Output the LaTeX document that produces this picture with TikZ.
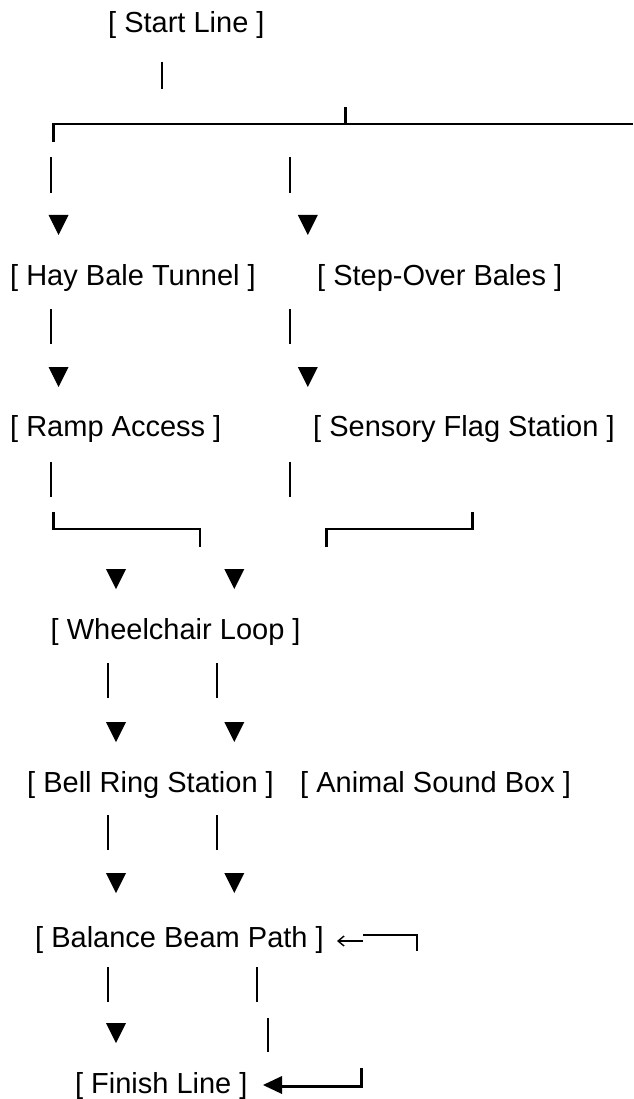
\documentclass[tikz,border=0pt]{standalone}
\usepackage{fontspec}
\setmainfont{Liberation Sans}
\usetikzlibrary{arrows.meta}

\tikzset{
  lbl/.style={anchor=base west,inner sep=0pt,font=\fontsize{29}{34}\selectfont},
  bar/.style={line width=1.8pt},
  boxline/.style={line width=2.8pt},
  thinarrow/.style={line width=1.4pt,-{Straight Barb[length=6pt,width=10pt]}}
}

\begin{document}
\begin{tikzpicture}[x=1pt,y=-1pt]
        \useasboundingbox (0,0) rectangle (633,1099);
        % stations
        \node[lbl] (start) at (108,33) {[ Start Line ]};
        \node[lbl] (tunnel) at (10,285) {[ Hay Bale Tunnel ]};
        \node[lbl] (bales) at (317,285) {[ Step-Over Bales ]};
        \node[lbl] (ramp) at (10,436) {[ Ramp Access ]};
        \node[lbl] (flag) at (313,436) {[ Sensory Flag Station ]};
        \node[lbl] (loop) at (50.5,639) {[ Wheelchair Loop ]};
        \node[lbl] (bell) at (27,792) {[ Bell Ring Station ]};
        \node[lbl] (sound) at (300,792) {[ Animal Sound Box ]};
        \node[lbl] (beam) at (35,947) {[ Balance Beam Path ]};
        \node[lbl] (finish) at (74.8,1093) {[ Finish Line ]};
        % bars
        \foreach \x/\ya/\yb in {161.6/62/89, 51.3/157/193, 289.7/157/193,
            51.3/309/344, 289.7/309/344, 51.3/462/497, 289.7/462/497,
            107.9/663/698, 217/663/698, 107.9/815/850, 217/815/850,
            107.9/967/1002, 257.3/967/1002, 268/1018/1052}
          \draw[bar] (\x,\ya) -- (\x,\yb);
        % arrow heads
        \foreach \x/\y in {58.6/215, 307.8/215, 58.6/367, 307.8/367,
            116/569, 234.3/569, 116/722, 234.3/722, 116/873, 234.3/873, 116/1023}
          \fill (\x-10,\y) -- (\x+10,\y) -- (\x,\y+20) -- cycle;
        % branch lines
        \draw[boxline] (53.7,142) -- (53.7,124) -- (633,124);
        \draw[boxline] (345.4,124) -- (345.4,107);
        \draw[boxline] (53.7,512) -- (53.7,529) -- (200,529) -- (200,547);
        \draw[boxline] (326.4,547) -- (326.4,529) -- (472.7,529) -- (472.7,512);
        \draw[boxline] (363,935) -- (417,935) -- (417,951);
        \draw[thinarrow] (363,941) -- (337,941);
        \draw[boxline] (282,1086.5) -- (361.6,1086.5) -- (361.6,1068);
        \fill (263,1085) -- (282,1076) -- (282,1094) -- cycle;
      \end{tikzpicture}
\end{document}
